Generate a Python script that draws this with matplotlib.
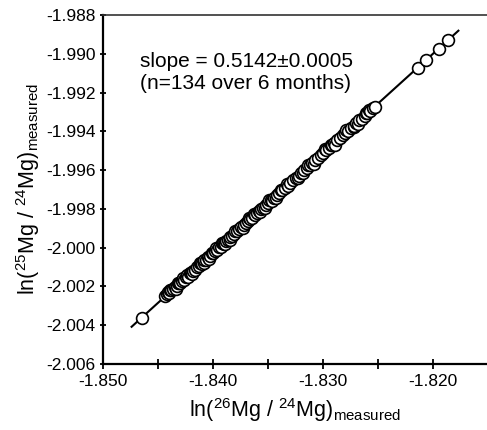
import matplotlib
matplotlib.use("Agg")
import matplotlib.pyplot as plt
from matplotlib.ticker import MultipleLocator, FormatStrFormatter

plt.rcParams['font.family'] = ['Liberation Sans', 'DejaVu Sans']
plt.rcParams['mathtext.fontset'] = 'custom'
plt.rcParams['mathtext.rm'] = 'Liberation Sans'

# ln(26Mg/24Mg) measured
mg26 = [-1.8465,
        -1.8444, -1.8442, -1.8440, -1.8438, -1.8436, -1.8435, -1.8433, -1.8431, -1.8430,
        -1.8428, -1.8426, -1.8425, -1.8423, -1.8421, -1.8420, -1.8418, -1.8416, -1.8415,
        -1.8413, -1.8411, -1.8410, -1.8408, -1.8406, -1.8405, -1.8403, -1.8401, -1.8400,
        -1.8398, -1.8396, -1.8395, -1.8393, -1.8391, -1.8390, -1.8388, -1.8386, -1.8385,
        -1.8383, -1.8381, -1.8378, -1.8376, -1.8375, -1.8372, -1.8370, -1.8368, -1.8366,
        -1.8365, -1.8362, -1.8360, -1.8358, -1.8356, -1.8355, -1.8352, -1.8350, -1.8347,
        -1.8345, -1.8342, -1.8340, -1.8337, -1.8335, -1.8332, -1.8330, -1.8327, -1.8325,
        -1.8322, -1.8320, -1.8317, -1.8315, -1.8312, -1.8310, -1.8307, -1.8305, -1.8302,
        -1.8300, -1.8297, -1.8295, -1.8292, -1.8290, -1.8287, -1.8285, -1.8282, -1.8280,
        -1.8277, -1.8275, -1.8272, -1.8270, -1.8267, -1.8265, -1.8262, -1.8260, -1.8257,
        -1.8255, -1.8253,
        -1.8441, -1.8434, -1.8427, -1.8419, -1.8412, -1.8404, -1.8397, -1.8389, -1.8380,
        -1.8373, -1.8363, -1.8357, -1.8349, -1.8343, -1.8333, -1.8323, -1.8314, -1.8308,
        -1.8298, -1.8289, -1.8279, -1.8268, -1.8258, -1.8439, -1.8424, -1.8408, -1.8392,
        -1.8385, -1.8367, -1.8353, -1.8338, -1.8318, -1.8293, -1.8272, -1.8261, -1.8432,
        -1.8346,
        -1.8214, -1.8206, -1.8195, -1.8186]

# ln(25Mg/24Mg) measured
mg25 = [-2.00362,
        -2.00250, -2.00238, -2.00236, -2.00220, -2.00214, -2.00203, -2.00200, -2.00184, -2.00182,
        -2.00170, -2.00165, -2.00152, -2.00150, -2.00132, -2.00133, -2.00118, -2.00115, -2.00100,
        -2.00097, -2.00080, -2.00082, -2.00066, -2.00062, -2.00050, -2.00044, -2.00030, -2.00028,
        -2.00015, -2.00010, -1.99998, -1.99994, -1.99978, -1.99980, -1.99964, -1.99958, -1.99946,
        -1.99942, -1.99928, -1.99912, -1.99906, -1.99895, -1.99882, -1.99872, -1.99862, -1.99850,
        -1.99846, -1.99830, -1.99822, -1.99810, -1.99803, -1.99795, -1.99778, -1.99770, -1.99756,
        -1.99742, -1.99728, -1.99720, -1.99703, -1.99694, -1.99680, -1.99666, -1.99652, -1.99640,
        -1.99628, -1.99614, -1.99600, -1.99591, -1.99576, -1.99562, -1.99550, -1.99538, -1.99524,
        -1.99512, -1.99498, -1.99488, -1.99472, -1.99460, -1.99446, -1.99436, -1.99420, -1.99410,
        -1.99396, -1.99384, -1.99370, -1.99358, -1.99344, -1.99334, -1.99320, -1.99307, -1.99294,
        -1.99282, -1.99272,
        -2.00228, -2.00212, -2.00156, -2.00136, -2.00078, -2.00058, -2.00002, -1.99982, -1.99914,
        -1.99900, -1.99826, -1.99816, -1.99754, -1.99744, -1.99672, -1.99642, -1.99574, -1.99566,
        -1.99492, -1.99468, -1.99394, -1.99360, -1.99288, -2.00218, -2.00142, -2.00078, -1.99976,
        -1.99960, -1.99848, -1.99796, -1.99700, -1.99616, -1.99468, -1.99378, -1.99304, -2.00184,
        -1.99758,
        -1.99071, -1.99030, -1.98973, -1.98927]

# regression line end points
fit_x = [-1.8474, -1.8177]
fit_y = [-2.00408, -1.98881]

# draw left to right so each circle overlaps the one before it
pts = sorted(zip(mg26, mg25))
xs = [p[0] for p in pts]
ys = [p[1] for p in pts]

fig = plt.figure(figsize=(4.87, 4.30), dpi=100)
ax = fig.add_axes([0.2115, 0.1535, 0.7885, 0.8116])

ax.plot(fit_x, fit_y, color='black', lw=1.5, zorder=1)
ax.scatter(xs, ys, s=8.5 ** 2, facecolors='white', edgecolors='black', linewidths=1.2, zorder=2)

ax.set_xlim(-1.850, -1.8151)
ax.set_ylim(-2.006, -1.988)

ax.xaxis.set_major_locator(MultipleLocator(0.010))
ax.xaxis.set_minor_locator(MultipleLocator(0.005))
ax.xaxis.set_major_formatter(FormatStrFormatter('%.3f'))
ax.yaxis.set_major_locator(MultipleLocator(0.002))
ax.yaxis.set_major_formatter(FormatStrFormatter('%.3f'))

ax.tick_params(axis='x', which='both', direction='inout', length=7, width=1.3, labelsize=12.5, pad=4)
ax.tick_params(axis='y', which='both', direction='inout', length=5, width=1.3, labelsize=12.5, pad=3)

ax.spines['right'].set_visible(False)
ax.spines['left'].set_linewidth(1.6)
ax.spines['bottom'].set_linewidth(1.6)
ax.spines['top'].set_linewidth(1.2)
ax.spines['top'].set_color('#333333')

ax.set_xlabel(r'ln($\mathregular{^{26}}$Mg / $\mathregular{^{24}}$Mg)$\mathregular{_{measured}}$',
              fontsize=15.5, labelpad=5)
ax.set_ylabel(r'ln($\mathregular{^{25}}$Mg / $\mathregular{^{24}}$Mg)$\mathregular{_{measured}}$',
              fontsize=15.5, labelpad=3)

ax.text(0.0964, 0.866, 'slope = 0.5142\u00b10.0005', transform=ax.transAxes,
        fontsize=15, ha='left', va='center')
ax.text(0.0964, 0.805, '(n=134 over 6 months)', transform=ax.transAxes,
        fontsize=15, ha='left', va='center')

fig.savefig('out.png', dpi=100)
